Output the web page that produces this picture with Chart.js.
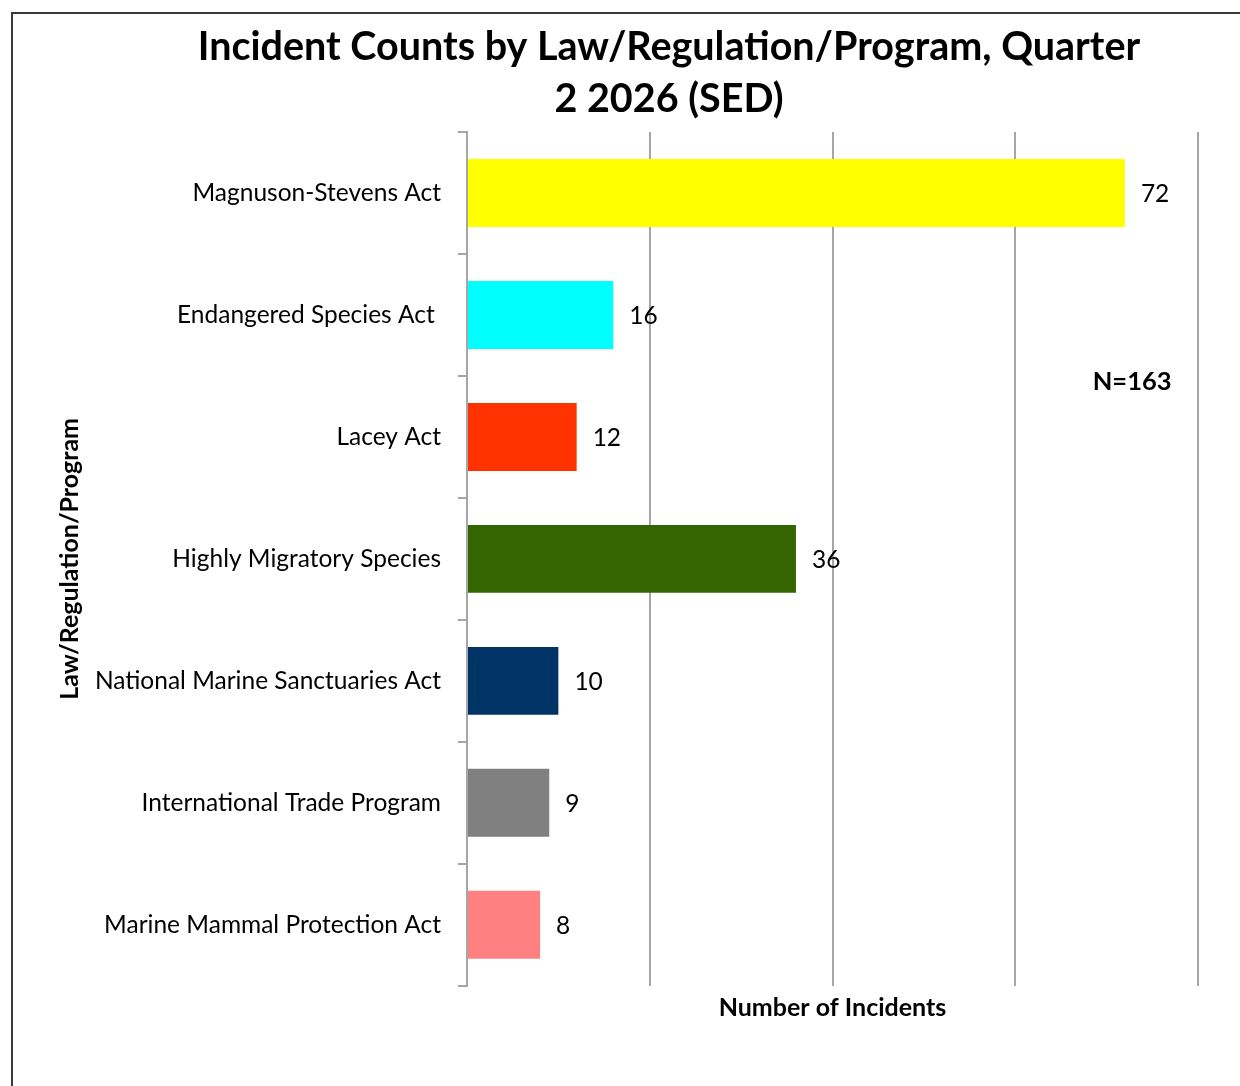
<!DOCTYPE html>
<html>
<head>
<meta charset="utf-8">
<script src="https://cdn.jsdelivr.net/npm/chart.js@4.4.0/dist/chart.umd.min.js"></script>
<style>
  html, body { margin: 0; padding: 0; background: #fff; overflow: hidden; }
  #frame {
    position: absolute; left: 11px; top: 12px;
    width: 1227px; height: 1072px;
    border-left: 2px solid #3a3a3a; border-top: 2px solid #3a3a3a;
  }
</style>
</head>
<body>
<div id="frame"><canvas id="barChart"></canvas></div>
<script>
// data
var categories = ['Magnuson-Stevens Act', 'Endangered Species Act ', 'Lacey Act', 'Highly Migratory Species',
    'National Marine Sanctuaries Act', 'International Trade Program', 'Marine Mammal Protection Act'];
var incidents = [72, 16, 12, 36, 10, 9, 8];
var barColors = ['#FFFF00', '#00FFFF', '#FF3300', '#336600', '#003366', '#808080', '#FF8080'];
var titleLines = ['Incident Counts by Law/Regulation/Program, Quarter', '2 2026 (SED)'];
var totalNote = 'N=163';

var FONT = 'Lato, "Open Sans", sans-serif';
var gridGray = '#a6a6a6';

// bar end labels, the chart title and the N= note
var textPlugin = {
    id: 'textPlugin',
    afterDatasetsDraw: function(chart) {
        var ctx = chart.ctx;
        ctx.save();
        ctx.fillStyle = '#000';
        ctx.font = '24.5px ' + FONT;
        ctx.textAlign = 'left';
        ctx.textBaseline = 'middle';
        chart.getDatasetMeta(0).data.forEach(function(bar, i) {
            ctx.fillText(String(incidents[i]), bar.x + 16, bar.y + 1);
        });

        var xs = chart.scales.x, ys = chart.scales.y;
        ctx.font = 'bold 25.5px ' + FONT;
        ctx.textAlign = 'right';
        ctx.fillText(totalNote, xs.getPixelForValue(77.1), ys.getPixelForValue(1.55));

        ctx.font = 'bold 39.5px ' + FONT;
        ctx.textAlign = 'center';
        titleLines.forEach(function(line, i) {
            ctx.fillText(line, 656, 33 + i * 52);
        });
        ctx.restore();
    }
};

var ctx = document.getElementById('barChart').getContext('2d');
var myChart = new Chart(ctx, {
    type: 'bar',
    data: {
        labels: categories,
        datasets: [{
            label: 'Number of Incidents',
            data: incidents,
            backgroundColor: barColors,
            borderWidth: 0,
            categoryPercentage: 1,
            barPercentage: 0.557
        }]
    },
    options: {
        indexAxis: 'y',
        responsive: true,
        maintainAspectRatio: false,
        animation: false,
        layout: { padding: { left: 0, right: 42, top: 118, bottom: 62.6 } },
        plugins: {
            legend: { display: false },
            title: { display: false },
            tooltip: { enabled: false }
        },
        scales: {
            x: {
                min: 0,
                max: 80,
                ticks: { stepSize: 20, display: false },
                grid: { color: gridGray, lineWidth: 2, drawTicks: false },
                border: { display: false },
                title: {
                    display: true,
                    text: 'Number of Incidents',
                    color: '#000',
                    font: { family: FONT, size: 25, weight: 'bold' },
                    padding: { top: 7.6, bottom: 0 }
                }
            },
            y: {
                afterFit: function(scale) { scale.width = 454; },
                ticks: {
                    color: '#000',
                    padding: 17,
                    font: { family: FONT, size: 24.5 }
                },
                grid: { drawOnChartArea: false, color: gridGray, lineWidth: 2, tickLength: 9 },
                border: { display: true, color: gridGray, width: 2 },
                title: {
                    display: true,
                    text: 'Law/Regulation/Program',
                    color: '#000',
                    font: { family: FONT, size: 25, weight: 'bold' },
                    padding: { top: 42, bottom: 0 }
                }
            }
        }
    },
    plugins: [textPlugin]
});
</script>
</body>
</html>
